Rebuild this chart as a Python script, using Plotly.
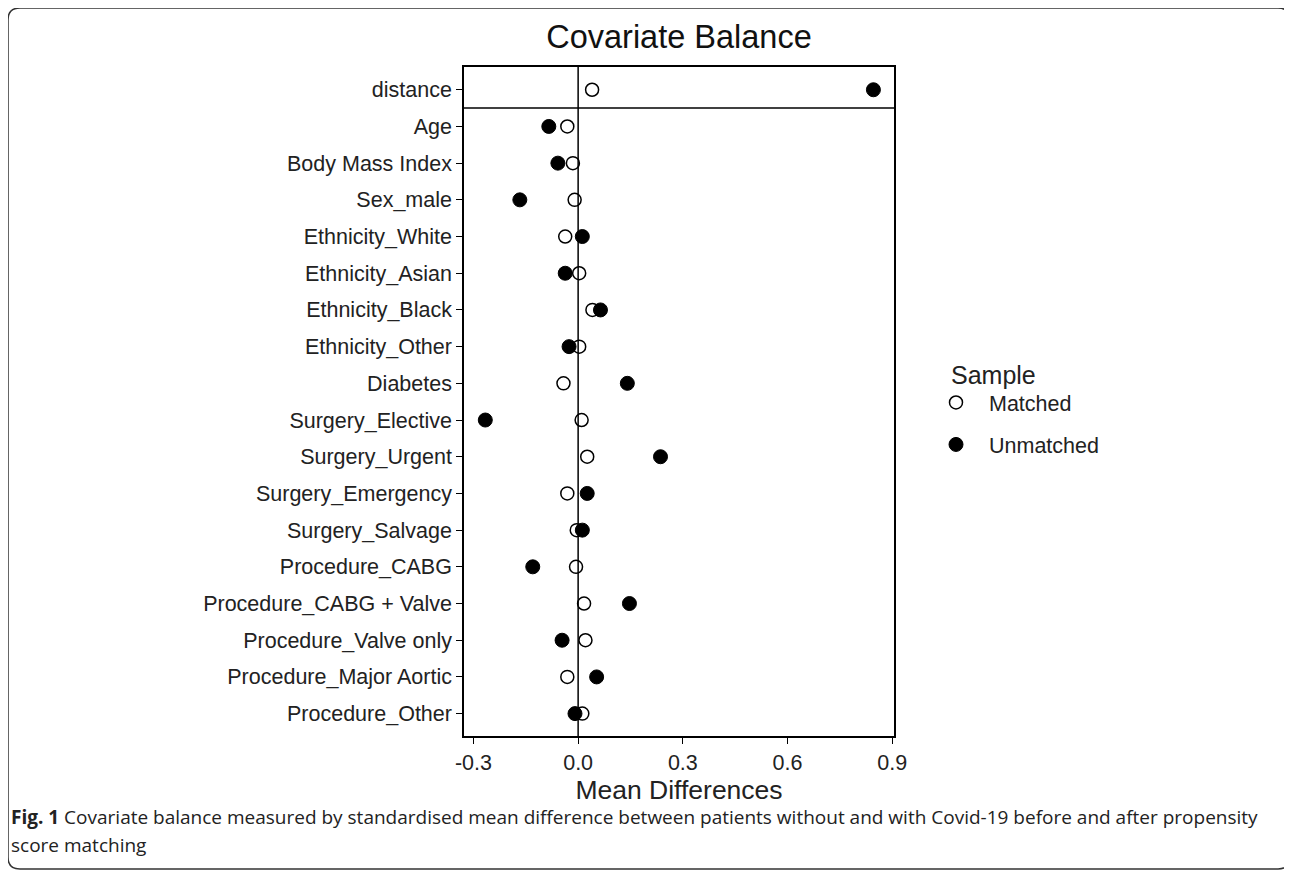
import plotly.graph_objects as go

covariates = ["distance", "Age", "Body Mass Index", "Sex_male", "Ethnicity_White",
              "Ethnicity_Asian", "Ethnicity_Black", "Ethnicity_Other", "Diabetes",
              "Surgery_Elective", "Surgery_Urgent", "Surgery_Emergency", "Surgery_Salvage",
              "Procedure_CABG", "Procedure_CABG + Valve", "Procedure_Valve only",
              "Procedure_Major Aortic", "Procedure_Other"]
matched = [0.040, -0.031, -0.015, -0.010, -0.037, 0.003, 0.041, 0.003, -0.042,
           0.010, 0.026, -0.031, -0.004, -0.006, 0.017, 0.021, -0.031, 0.012]
unmatched = [0.846, -0.084, -0.058, -0.167, 0.012, -0.037, 0.064, -0.026, 0.141,
             -0.266, 0.236, 0.026, 0.012, -0.130, 0.147, -0.046, 0.053, -0.009]
x_ticks = [-0.3, 0.0, 0.3, 0.6, 0.9]
x_tick_text = ["-0.3", "0.0", "0.3", "0.6", "0.9"]

# page is rendered with an 8px body margin; target positions are page pixels
OFF = 8
W, H = 1292, 871
ML, MT = 464 - OFF, 67 - OFF
PW, PH = 430, 669
MR, MB = W - ML - PW, H - MT - PH


def px(x):
    return (x - OFF - ML) / PW


def py(y):
    return 1 - (y - OFF - MT) / PH


FONT = "Liberation Sans, Arial, sans-serif"

fig = go.Figure()
fig.add_trace(go.Scatter(
    x=matched, y=covariates, mode="markers", name="Matched",
    legendgroup="m",
    marker=dict(symbol="circle", size=13, color="white",
                line=dict(color="black", width=1.5)),
))
fig.add_trace(go.Scatter(
    x=unmatched, y=covariates, mode="markers", name="Unmatched",
    legendgroup="u",
    marker=dict(symbol="circle", size=14, color="black",
                line=dict(color="black", width=1)),
))

# rounded outer frame
x0, y0, x1, y1, r = 8, 8, 1290, 869, 12
path = (f"M {px(x0 + r)},{py(y0)} L {px(x1 - r)},{py(y0)} "
        f"Q {px(x1)},{py(y0)} {px(x1)},{py(y0 + r)} "
        f"L {px(x1)},{py(y1 - r)} Q {px(x1)},{py(y1)} {px(x1 - r)},{py(y1)} "
        f"L {px(x0 + r)},{py(y1)} Q {px(x0)},{py(y1)} {px(x0)},{py(y1 - r)} "
        f"L {px(x0)},{py(y0 + r)} Q {px(x0)},{py(y0)} {px(x0 + r)},{py(y0)} Z")

fig.update_layout(
    width=W, height=H,
    margin=dict(l=ML, r=MR, t=MT, b=MB),
    paper_bgcolor="white", plot_bgcolor="white",
    font=dict(family=FONT, color="#222"),
    title=dict(text="Covariate Balance", x=(679 - OFF) / W, xanchor="center",
               y=1 - (37 - OFF) / H, yanchor="middle",
               font=dict(size=32.5, color="#111", family=FONT)),
    xaxis=dict(range=[-0.327, 0.905], tickvals=x_ticks, ticktext=x_tick_text,
               showgrid=False, zeroline=False, showline=True, mirror=True,
               linecolor="black", linewidth=1.5, ticks="outside", ticklen=6,
               tickcolor="black", tickwidth=1.2,
               tickfont=dict(size=21.5, color="#222"),
               title=dict(text="Mean Differences", font=dict(size=26.5, color="#222"),
                          standoff=4)),
    yaxis=dict(type="category", categoryorder="array",
               categoryarray=covariates[::-1], range=[-0.61, 17.62],
               showgrid=False, zeroline=False, showline=True, mirror=True,
               linecolor="black", linewidth=1.5, ticks="outside", ticklen=6,
               tickcolor="black", tickwidth=1.2,
               tickfont=dict(size=21.5, color="#222")),
    legend=dict(x=px(923), y=py(382), xanchor="left", yanchor="top",
                font=dict(size=21.5, color="#222"),
                traceorder="grouped", tracegroupgap=11, itemwidth=56,
                bgcolor="rgba(0,0,0,0)"),
    showlegend=True,
    shapes=[
        dict(type="line", xref="x", yref="paper", x0=0, x1=0, y0=0, y1=1,
             line=dict(color="black", width=1.5)),
        dict(type="line", xref="paper", yref="y", x0=0, x1=1, y0=16.5, y1=16.5,
             line=dict(color="black", width=1.5)),
        dict(type="path", xref="paper", yref="paper", path=path,
             line=dict(color="#333", width=1.5), layer="below"),
    ],
    annotations=[
        dict(xref="paper", yref="paper", x=px(949), y=py(375), xanchor="left",
             yanchor="middle", showarrow=False, text="Sample",
             font=dict(size=25, color="#222", family=FONT)),
        dict(xref="paper", yref="paper", x=px(9), y=py(817), xanchor="left",
             yanchor="middle", showarrow=False, align="left",
             text="<b>Fig. 1</b> Covariate balance measured by standardised mean difference "
                  "between patients without and with Covid-19 before and after propensity",
             font=dict(family="Open Sans, sans-serif", size=19, color="#222")),
        dict(xref="paper", yref="paper", x=px(9), y=py(845), xanchor="left",
             yanchor="middle", showarrow=False, align="left",
             text="score matching",
             font=dict(family="Open Sans, sans-serif", size=19, color="#222")),
    ],
)

fig.write_html("out.html")
